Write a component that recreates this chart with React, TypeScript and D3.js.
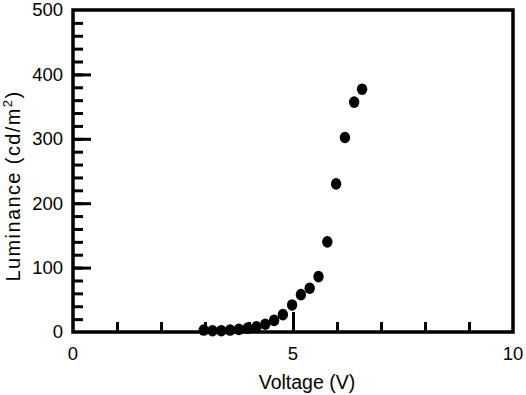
import React, { useEffect, useRef } from "react";
import * as d3 from "d3";

// luminance vs voltage
const voltage = [
  2.97, 3.17, 3.37, 3.57, 3.77, 3.97, 4.17, 4.37, 4.57, 4.77, 4.98, 5.18, 5.38,
  5.58, 5.78, 5.98, 6.18, 6.39, 6.57,
];
const luminance = [
  3, 2, 2, 3, 4, 6, 8, 12, 18, 27, 42, 58, 68, 86, 140, 230, 302, 357, 377,
];
const xTickLabels = [0, 5, 10];
const yTickLabels = [0, 100, 200, 300, 400, 500];

function App() {
  const svgRef = useRef<SVGSVGElement>(null);
  const W = 526;
  const H = 395;
  const margin = { top: 10, right: 13, bottom: 63, left: 73 };
  const width = W - margin.left - margin.right;
  const height = H - margin.top - margin.bottom;

  useEffect(() => {
    const root = d3.select(svgRef.current);
    root.selectAll("*").remove();
    const svg = root
      .append("g")
      .attr("transform", `translate(${margin.left},${margin.top})`);

    const x = d3.scaleLinear().domain([0, 10]).range([0, width]);
    const y = d3.scaleLinear().domain([0, 500]).range([height, 0]);
    const font = "'Liberation Sans', Arial, sans-serif";

    // minor ticks (inward)
    svg
      .append("g")
      .attr("transform", `translate(0,${height})`)
      .call(
        d3.axisBottom(x).tickValues(d3.range(1, 10)).tickSize(-10).tickFormat(() => "")
      );
    svg
      .append("g")
      .call(
        d3.axisLeft(y).tickValues(d3.range(20, 500, 20)).tickSize(-10).tickFormat(() => "")
      );
    // major ticks
    svg
      .append("g")
      .attr("transform", `translate(0,${height})`)
      .call(d3.axisBottom(x).tickValues([5]).tickSize(-20).tickFormat(() => ""));
    svg
      .append("g")
      .call(
        d3.axisLeft(y).tickValues([100, 200, 300, 400]).tickSize(-18).tickFormat(() => "")
      );

    svg.selectAll(".domain").remove();
    svg.selectAll(".tick line").attr("stroke", "#000").attr("stroke-width", 3);

    // frame
    svg
      .append("rect")
      .attr("x", 0)
      .attr("y", 0)
      .attr("width", width)
      .attr("height", height)
      .attr("fill", "none")
      .attr("stroke", "#000")
      .attr("stroke-width", 3.5);

    // tick labels
    svg
      .selectAll(".xl")
      .data(xTickLabels)
      .enter()
      .append("text")
      .attr("x", (d) => x(d))
      .attr("y", height + 28)
      .attr("text-anchor", "middle")
      .attr("font-family", font)
      .attr("font-size", 18.5)
      .text((d) => d);
    svg
      .selectAll(".yl")
      .data(yTickLabels)
      .enter()
      .append("text")
      .attr("x", -10)
      .attr("y", (d) => y(d))
      .attr("dy", "0.35em")
      .attr("text-anchor", "end")
      .attr("font-family", font)
      .attr("font-size", 18.5)
      .text((d) => d);

    // axis titles
    svg
      .append("text")
      .attr("x", width / 2 + 14)
      .attr("y", height + 57)
      .attr("text-anchor", "middle")
      .attr("font-family", font)
      .attr("font-size", 19.5)
      .text("Voltage (V)");
    const yt = svg
      .append("text")
      .attr("transform", `translate(${-53},${176}) rotate(-90)`)
      .attr("text-anchor", "middle")
      .attr("font-family", font)
      .attr("font-size", 20)
      .attr("letter-spacing", 1.4);
    yt.append("tspan").text("Luminance (cd/m");
    yt.append("tspan").attr("dy", -8).attr("font-size", 13).text("2");
    yt.append("tspan").attr("dy", 8).text(")");

    // points
    svg
      .selectAll(".pt")
      .data(voltage.map((v, i) => ({ v, l: luminance[i] })))
      .enter()
      .append("ellipse")
      .attr("cx", (d) => x(d.v))
      .attr("cy", (d) => y(d.l))
      .attr("rx", 5.2)
      .attr("ry", 5.8)
      .attr("fill", "#000");
  }, []);

  return (
    <svg
      ref={svgRef}
      width={W}
      height={H}
      style={{ position: "absolute", left: 0, top: 0, background: "#fff" }}
    />
  );
}

export default App;
